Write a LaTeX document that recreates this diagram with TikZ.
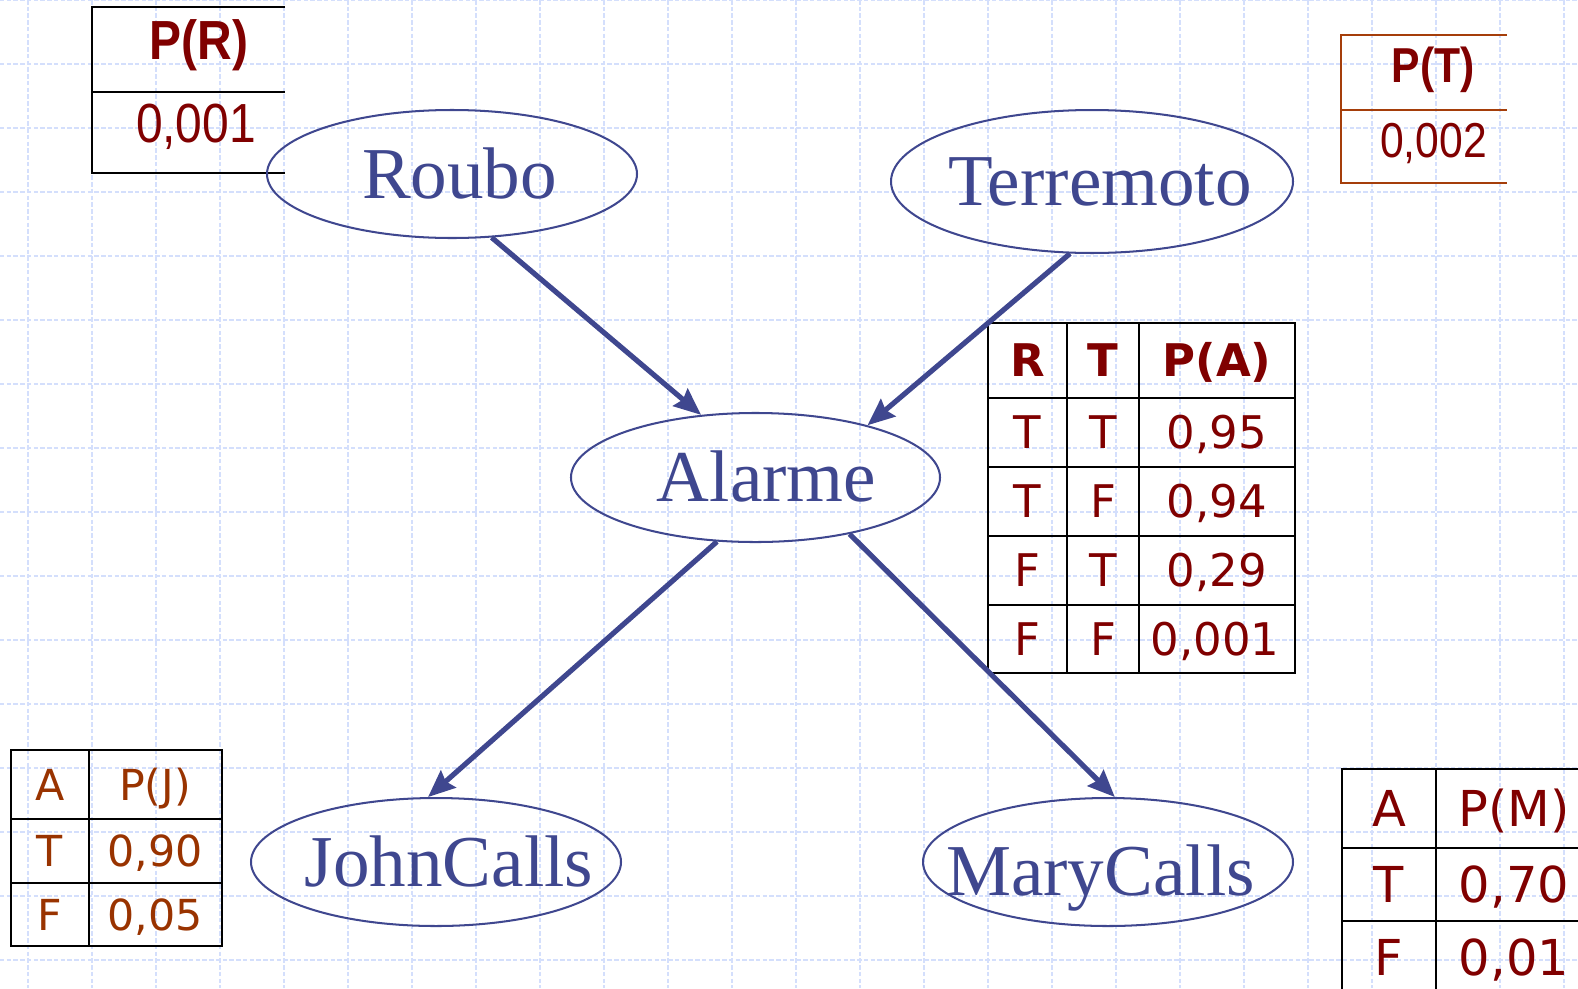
\documentclass[tikz,border=0pt]{standalone}
\usepackage{fontspec}
\setmainfont{Liberation Serif}
\newfontfamily\headfont[FakeStretch=0.87]{Liberation Sans}
\newfontfamily\cptfont{DejaVu Sans}
\usetikzlibrary{arrows.meta,shapes.geometric}
\definecolor{netblue}{RGB}{63,71,143}
\definecolor{cptred}{RGB}{128,0,0}
\definecolor{cptbrown}{RGB}{153,51,0}
\definecolor{tbrown}{RGB}{165,62,10}
\definecolor{gridblue}{RGB}{212,223,252}
% text centred on the ellipse, shifted sideways by half of #1
\newcommand{\ntext}[2][0pt]{\makebox[0pt]{\hspace*{#1}#2}}

\begin{document}
\begin{tikzpicture}[x=0.015625cm,y=-0.015625cm,
  var/.style={ellipse,draw=netblue,line width=0.9pt,inner sep=0pt,text=netblue,
    font=\fontsize{32.5}{36}\selectfont,text height=21.5pt,text depth=0pt},
  link/.style={netblue,line width=2.3pt,-{Stealth[length=12pt,width=10pt,inset=1.5pt]}},
  gridline/.style={gridblue,line width=0.5pt,dash pattern=on 2pt off 1pt},
  tabline/.style={line width=0.9pt},
  prcell/.style={inner sep=0pt,text=cptred,font=\headfont\fontsize{24.5}{28}\selectfont,text height=17.5pt,text depth=0pt},
  ptcell/.style={inner sep=0pt,text=cptred,font=\headfont\fontsize{21.8}{26}\selectfont,text height=15.6pt,text depth=0pt},
  pacell/.style={inner sep=0pt,text=cptred,font=\cptfont\fontsize{20}{24}\selectfont,text height=14.6pt,text depth=0pt},
  pjcell/.style={inner sep=0pt,text=cptbrown,font=\cptfont\fontsize{19}{23}\selectfont,text height=13.9pt,text depth=0pt},
  pmcell/.style={inner sep=0pt,text=cptred,font=\cptfont\fontsize{22}{26}\selectfont,text height=16pt,text depth=0pt}]
\useasboundingbox (0,0) rectangle (1578,988);
\clip (0,0) rectangle (1578,988);

% background grid
\foreach \gx in {28,92,...,1564} \draw[gridline] (\gx,0) -- (\gx,988);
\foreach \gy in {0,64,...,960} \draw[gridline] (0,\gy) -- (1578,\gy);

% P(R)
\draw[tabline] (285,7) -- (92,7) -- (92,173) -- (285,173);
\draw[tabline] (92,92) -- (285,92);
\node[prcell] (pr-head) at (199,40) {\bfseries P(R)};
\node[prcell] (pr-val) at (196,122.5) {0,001};

% P(T)
\draw[tbrown,line width=0.7pt] (1507,35) -- (1341,35) -- (1341,183) -- (1507,183);
\draw[tbrown,line width=0.7pt] (1341,110) -- (1507,110);
\node[ptcell] (pt-head) at (1433,64.5) {\bfseries P(T)};
\node[ptcell] (pt-val) at (1433.5,139.5) {0,002};

% P(A)
\draw[tabline] (988,323) rectangle (1295,673);
\draw[tabline] (1067,323) -- (1067,673) (1139,323) -- (1139,673);
\foreach \ry in {398,467,536,605} \draw[tabline] (988,\ry) -- (1295,\ry);
\node[pacell] (pa-r) at (1027.5,360.5) {\bfseries R};
\node[pacell] (pa-t) at (1103,360.5) {\bfseries T};
\node[pacell] (pa-p) at (1217,360.5) {\bfseries P(A)};
\node[pacell] (pa-r1) at (1027.5,432.5) {T};
\node[pacell] (pa-t1) at (1103,432.5) {T};
\node[pacell] (pa-p1) at (1217,432.5) {0,95};
\node[pacell] (pa-r2) at (1027.5,501.5) {T};
\node[pacell] (pa-t2) at (1103,501.5) {F};
\node[pacell] (pa-p2) at (1217,501.5) {0,94};
\node[pacell] (pa-r3) at (1027.5,570.5) {F};
\node[pacell] (pa-t3) at (1103,570.5) {T};
\node[pacell] (pa-p3) at (1217,570.5) {0,29};
\node[pacell] (pa-r4) at (1027.5,639) {F};
\node[pacell] (pa-t4) at (1103,639) {F};
\node[pacell] (pa-p4) at (1215,639) {0,001};

% P(J)
\draw[tabline] (11,750) rectangle (222,946);
\draw[tabline] (89,750) -- (89,946) (11,819) -- (222,819) (11,883) -- (222,883);
\node[pjcell] (pj-a) at (50,784.5) {A};
\node[pjcell] (pj-p) at (155,784.5) {P(J)};
\node[pjcell] (pj-a1) at (50,851) {T};
\node[pjcell] (pj-p1) at (155,851) {0,90};
\node[pjcell] (pj-a2) at (50,914.5) {F};
\node[pjcell] (pj-p2) at (155,914.5) {0,05};

% P(M)
\draw[tabline] (1342,769) rectangle (1592,994);
\draw[tabline] (1436,769) -- (1436,994) (1342,848) -- (1592,848) (1342,921) -- (1592,921);
\node[pmcell] (pm-a) at (1389,808.5) {A};
\node[pmcell] (pm-p) at (1514,808.5) {P(M)};
\node[pmcell] (pm-a1) at (1389,884.5) {T};
\node[pmcell] (pm-p1) at (1514,884.5) {0,70};
\node[pmcell] (pm-a2) at (1389,957.5) {F};
\node[pmcell] (pm-p2) at (1514,957.5) {0,01};

% network
\node[var,minimum width=5.781cm,minimum height=2cm] (roubo) at (452,174) {\ntext[6.7pt]{Roubo}};
\node[var,minimum width=6.281cm,minimum height=2.234cm] (terremoto) at (1092,181.5) {\ntext[7.1pt]{Terremoto}};
\node[var,minimum width=5.766cm,minimum height=2.016cm] (alarme) at (755.5,477.5) {\ntext[9.8pt]{Alarme}};
\node[var,minimum width=5.781cm,minimum height=2cm] (john) at (436,862) {\ntext[11.6pt]{JohnCalls}};
\node[var,minimum width=5.781cm,minimum height=2cm] (mary) at (1108,862) {\ntext[-6.7pt]{\raisebox{-4pt}{MaryCalls}}};

\draw[link] (roubo.-58) -- (alarme.131);
\draw[link] (terremoto.-107) -- (alarme.25);
\draw[link] (alarme.-121) -- (john.97);
\draw[link] (alarme.-31) -- (mary.84);
\end{tikzpicture}
\end{document}
